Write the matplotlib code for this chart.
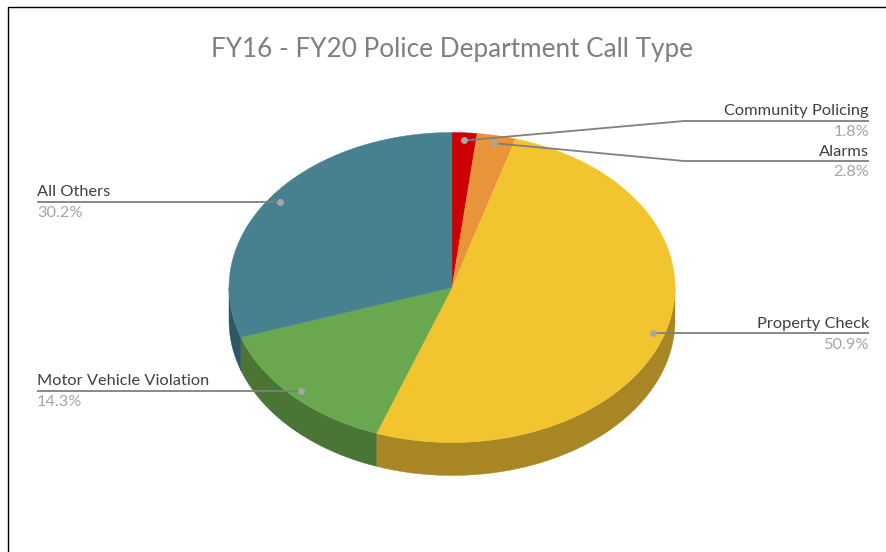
import numpy as np
import matplotlib
matplotlib.use("Agg")
import matplotlib.pyplot as plt

plt.rcParams["font.family"] = ["Lato", "DejaVu Sans"]

# Slices, clockwise from 12 o'clock
categories = ["Community Policing", "Alarms", "Property Check", "Motor Vehicle Violation", "All Others"]
shares = [1.8, 2.8, 50.9, 14.3, 30.2]
top_colors = ["#CC0000", "#E8943A", "#F2C430", "#6AA84F", "#47808F"]
side_colors = ["#8F0000", "#A36829", "#A88624", "#4A7535", "#2F5763"]

# Pie geometry in pixels
cx, cy = 452, 287.5
rx, ry = 223, 155
depth = 33


def rim(a0, a1, drop=0):
    # a0, a1 are degrees clockwise from the top
    t = np.radians(np.linspace(a0, a1, 200))
    return cx + rx * np.sin(t), cy - ry * np.cos(t) + drop


fig = plt.figure(figsize=(8.86, 5.52), dpi=100)
ax = fig.add_axes([0, 0, 1, 1])
ax.set_xlim(0, 886)
ax.set_ylim(552, 0)
ax.axis("off")

edges = np.cumsum([0] + shares) / sum(shares) * 360

# Side wall, only the part facing the viewer (90 to 270 degrees)
for i in range(len(shares)):
    a0, a1 = max(edges[i], 90), min(edges[i + 1], 270)
    if a0 < a1:
        x, y = rim(a0, a1)
        xb, yb = rim(a1, a0, depth)
        ax.fill(np.r_[x, xb], np.r_[y, yb], color=side_colors[i], lw=0.3)

# Top face
for i in range(len(shares)):
    x, y = rim(edges[i], edges[i + 1])
    ax.fill(np.r_[cx, x], np.r_[cy, y], color=top_colors[i], lw=0.3)

# Label anchors: which side, and the elbow height for the two crowded labels
sides = ["right", "right", "right", "left", "left"]
elbow_y = [121, 161, None, None, None]
text_right, text_left, elbow_x = 869, 37, 684

for i, name in enumerate(categories):
    mid = np.radians((edges[i] + edges[i + 1]) / 2)
    px = cx + 0.95 * rx * np.sin(mid)
    py = cy - 0.95 * ry * np.cos(mid)
    ly = py if elbow_y[i] is None else elbow_y[i]
    if sides[i] == "right":
        if elbow_y[i] is None:
            xs, ys = [px, text_right], [py, py]
        else:
            xs, ys = [px, elbow_x, text_right], [py, ly, ly]
        tx, ha = text_right, "right"
    else:
        xs, ys = [px, text_left], [py, py]
        tx, ha = text_left, "left"
    ax.plot(xs, ys, color="#7F7F7F", lw=1.3, solid_capstyle="butt", zorder=4)
    ax.plot([px], [py], "o", color="#A6A6A6", ms=5, mew=0, zorder=5)
    ax.text(tx, ly - 2.5, name, ha=ha, va="bottom", color="#404040", fontsize=11.8, zorder=6)
    ax.text(tx, ly + 4.5, f"{shares[i]:.1f}%", ha=ha, va="top", color="#A6A6A6", fontsize=11.8, zorder=6)

ax.text(452.5, 49.5, "FY16 - FY20 Police Department Call Type", ha="center", va="center",
        color="#7F7F7F", fontsize=18.8)

# Black frame: left and top edges only show in the crop
ax.plot([8.5, 8.5, 886], [552, 6.5, 6.5], color="black", lw=1.0)

fig.savefig("out.png", dpi=100)
